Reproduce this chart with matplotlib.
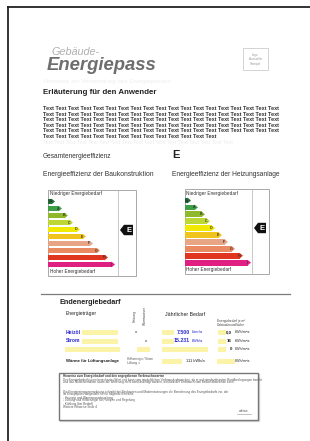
import matplotlib
matplotlib.use("Agg")
import matplotlib.pyplot as plt
from matplotlib.patches import Rectangle, Polygon

plt.rcParams['font.family'] = ['Liberation Sans', 'DejaVu Sans']

# energy scale data (class, bar length in px incl. tip, colour)
classes = ["A+", "A", "B", "C", "D", "E", "F", "G", "H", "I"]
scale_colors = ['#1e6e38', '#3f9f47', '#8fb92a', '#bdd734', '#f1ea00',
                '#f0c41c', '#e8a585', '#ea8a63', '#e0351f', '#df1f82']
len_bau = [7, 14, 20, 25, 32, 38, 45, 52, 60, 67]
len_heiz = [6, 13, 20, 25, 30, 37, 43, 50, 58, 66]
class_bau = "E"
class_heiz = "E"

# table data
traeger = ["Heizöl", "Strom", ""]
mark_col = [1, 2, 0]
bedarf = ["7.500", "15.231", ""]
einheit = ["Liter/a", "kWh/a", ""]
kennwert = ["0,0", "16", "0"]
lueftung = "111"

fig = plt.figure(figsize=(3.1, 4.41), dpi=100)
ax = fig.add_axes([0, 0, 1, 1])
ax.set_xlim(0, 310)
ax.set_ylim(441, 0)
ax.axis('off')

# page border
ax.plot([7.5, 310], [7, 7], color='#222222', lw=1.3)
ax.plot([7.5, 7.5], [7, 441], color='#222222', lw=1.3)

# header
ax.text(51, 52, "Gebäude-", fontsize=7.8, style='italic', color='#b0b0b0', va='center')
ax.text(47, 66, "Energiepass", fontsize=13.3, style='italic', weight='bold',
        color='#6e6e6e', va='center')
ax.add_patch(Rectangle((243, 48), 25, 22, fill=False, ec='#cccccc', lw=0.6))
for yy, t in zip([55, 59.5, 64], ["Logo", "Aussteller", "Stempel"]):
    ax.text(255.5, yy, t, fontsize=2.2, color='#999999', ha='center', va='center')

ax.text(44, 82, "Hinweise zur Verwendung des Energiepasses", fontsize=4.5,
        color='#eeeeee', va='center')
ax.text(43, 93, "Erläuterung für den Anwender", fontsize=5.7, weight='bold',
        color='#222222', va='center')
rows = [19, 19, 19, 19, 19, 14]
for i, n in enumerate(rows):
    ax.text(43, 109 + i * 5.4, " ".join(["Text"] * n), fontsize=4.0,
            weight='bold', color='#333333', va='center')
ax.text(43, 143, " ".join(["Text"] * 17), fontsize=4.0, color='#ececec', va='center')

# section headings
ax.text(43, 156, "Gesamtenergieeffizienz", fontsize=4.7, color='#333333', va='center')
ax.text(172, 155, "E", fontsize=8, weight='bold', color='#222222', va='center')
ax.text(43, 174, "Energieeffizienz der Baukonstruktion", fontsize=4.9,
        color='#333333', va='center')
ax.text(172, 174, "Energieeffizienz der Heizungsanlage", fontsize=4.8,
        color='#333333', va='center')


def scale(x0, x1, xin, ytop, ybot, lengths, yfirst, pitch, cls, ymark, top_lbl):
    ax.add_patch(Rectangle((x0, ytop), x1 - x0, ybot - ytop, fill=False,
                           ec='#9a9a9a', lw=0.6))
    ax.plot([xin, xin], [ytop, ybot], color='#b0b0b0', lw=0.5)
    ax.text(x0 + 1.5, ytop + 4, top_lbl, fontsize=3.4, color='#333333', va='center')
    ax.text(x0 + 1.5, ybot - 4.5, "Hoher Energiebedarf", fontsize=3.4,
            color='#333333', va='center')
    h = 5.8
    tip = 3.5
    ys = [yfirst + i * pitch for i in range(len(lengths))]
    ax.barh(ys, [l - tip for l in lengths], left=x0, height=h,
            color=scale_colors, lw=0)
    for y, l, c, k in zip(ys, lengths, scale_colors, classes):
        xe = x0 + l - tip
        ax.add_patch(Polygon([(xe, y - h / 2), (xe + tip, y), (xe, y + h / 2)],
                             closed=True, fc=c, lw=0))
        ax.text(xe - 0.5, y, k, fontsize=2.6, weight='bold', color='#333333',
                ha='center', va='center')
    xt = xin + 2
    xr = x1 - 3
    ax.add_patch(Polygon([(xt, ymark), (xt + 4, ymark - 5.2), (xr, ymark - 5.2),
                          (xr, ymark + 5.2), (xt + 4, ymark + 5.2)],
                         closed=True, fc='#111111', lw=0))
    ax.text((xt + 4 + xr) / 2 + 0.5, ymark, cls, fontsize=5.5, weight='bold',
            color='white', ha='center', va='center')


scale(48, 136, 118, 190, 276, len_bau, 201.5, 7.0, class_bau, 230,
      "Niedriger Energiebedarf")
scale(185, 269, 252, 189, 274, len_heiz, 200.5, 6.9, class_heiz, 228,
      "Niedriger Energiebedarf")

# separator
ax.plot([41, 290], [294, 294], color='#7a7a7a', lw=0.9)

# Endenergiebedarf table
yel = '#fbf4a8'
ax.text(60, 303, "Endenergiebedarf", fontsize=5.2, weight='bold', color='#222222', va='center')
ax.text(66, 314, "Energieträger", fontsize=3.6, color='#222222', va='center')
ax.text(165, 314, "Jährlicher Bedarf", fontsize=3.8, color='#222222', va='center')
ax.text(135, 316, "Heizung", fontsize=2.3, color='#444444', rotation=90,
        ha='center', va='center')
ax.text(145, 316, "Warmwasser", fontsize=2.3, color='#444444', rotation=90,
        ha='center', va='center')
ax.text(217, 321, "Energiebedarf je m²", fontsize=2.3, color='#444444', va='center')
ax.text(217, 324.5, "Gebäudenutzfläche", fontsize=2.3, color='#444444', va='center')

row_y = [332, 341, 349]
for i, y in enumerate(row_y):
    if traeger[i]:
        ax.add_patch(Rectangle((82, y - 2.5), 36, 5, fc=yel, lw=0))
        ax.text(66, y, traeger[i], fontsize=3.6, weight='bold', color='#2a2ad0',
                va='center')
    else:
        ax.add_patch(Rectangle((65, y - 2.5), 55, 5, fc=yel, lw=0))
        ax.add_patch(Rectangle((137, y - 2.5), 13, 5, fc=yel, lw=0))
    if mark_col[i]:
        ax.text(126 + 10 * mark_col[i], y, "x", fontsize=3.2, color='#222222',
                ha='center', va='center')
    if bedarf[i]:
        ax.add_patch(Rectangle((162, y - 2.5), 12, 5, fc=yel, lw=0))
        ax.text(190, y, bedarf[i], fontsize=3.8, weight='bold', color='#2a2ad0',
                ha='right', va='center')
        ax.text(191.5, y, einheit[i], fontsize=2.9, color='#2a2ad0', va='center')
    else:
        ax.add_patch(Rectangle((162, y - 2.5), 46, 5, fc=yel, lw=0))
    ax.add_patch(Rectangle((218, y - 2.5), 8, 5, fc=yel, lw=0))
    ax.text(232, y, kennwert[i], fontsize=3.2, weight='bold', color='#222222',
            ha='right', va='center')
    ax.text(235, y, "kWh/m²a", fontsize=2.8, color='#333333', va='center')

y = 361
ax.text(66, y, "Wärme für Lüftungsanlage", fontsize=3.1, weight='bold',
        color='#222222', va='center')
ax.text(127, y - 1.8, "Hilfsenergie / Strom", fontsize=2.1, color='#555555', va='center')
ax.text(127, y + 1.8, "Lüftung  x", fontsize=2.1, color='#555555', va='center')
ax.add_patch(Rectangle((162, y - 2.5), 20, 5, fc=yel, lw=0))
ax.text(195, y, lueftung + " kWh/a", fontsize=2.9, color='#222222', ha='center', va='center')
ax.add_patch(Rectangle((217, y - 2.5), 18, 5, fc=yel, lw=0))
ax.text(235, y, "kWh/m²a", fontsize=2.8, color='#333333', va='center')

# note box
ax.add_patch(Rectangle((60, 374), 199, 47, fc='none', ec='#d8d8d8', lw=1.0))
ax.add_patch(Rectangle((58.5, 372.5), 199, 47, fc='white', ec='#777777', lw=1.0))
note = [
    (376, "Hinweise zum Energiebedarf und den angegebenen Verbrauchswerten", True),
    (379.5, "Der Energiebedarf ist ein berechneter Wert und kann vom tatsächlichen Verbrauch abweichen, da er auf standardisierten Randbedingungen beruht", False),
    (382.5, "und das Nutzerverhalten sowie die Witterung nicht berücksichtigt werden, weshalb der Verbrauch vom Bedarf abweichen kann.", False),
    (391.5, "Die Energieeinsparverordnung schreibt bei Neubauten und Modernisierungen die Berechnung des Energiebedarfs vor, der", False),
    (394.5, "im Energiepass dargestellt ist, für folgende Bereiche:", False),
    (397.5, "- Heizung und Warmwasserbereitung", False),
    (400.5, "- Lüftung und Hilfsenergie für Pumpen und Regelung", False),
    (403.5, "- Kühlung (bei Bedarf)", False),
    (406.5, "Weitere Hinweise Seite 4", False),
]
for yy, t, b in note:
    ax.text(63, yy, t, fontsize=2.2, weight='bold' if b else 'normal',
            color='#333333' if b else '#555555', va='center')
ax.text(244, 411.5, "dena", fontsize=3, style='italic', weight='bold', color='#888888',
        ha='center', va='center')
ax.plot([237, 251], [414, 414], color='#aaaaaa', lw=0.5)

fig.savefig("out.png", dpi=100)
